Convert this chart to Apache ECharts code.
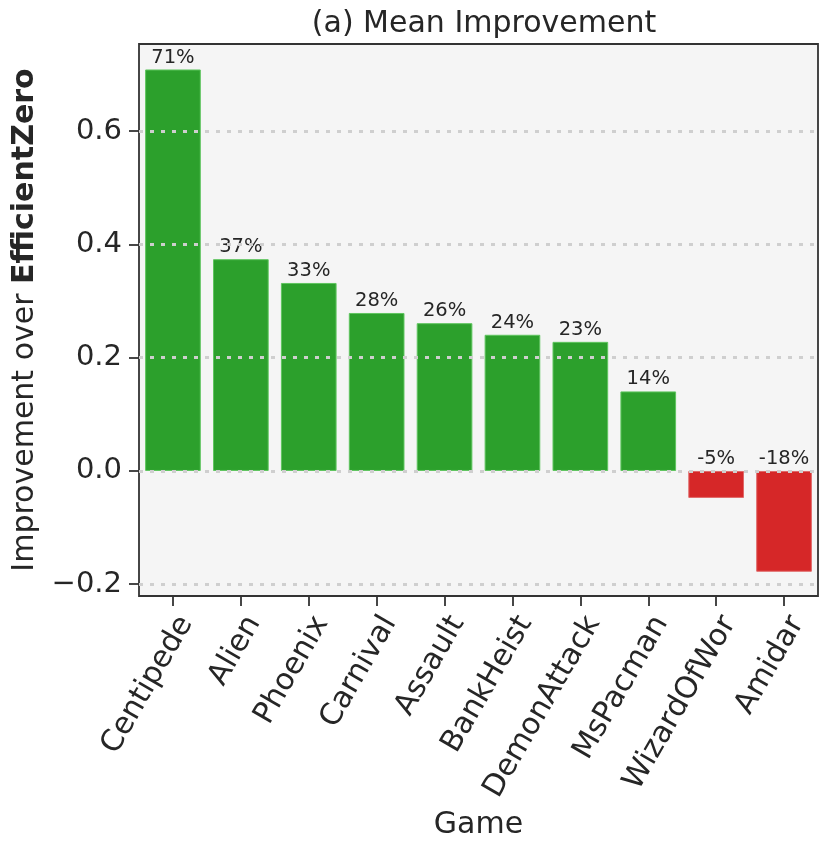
<!DOCTYPE html>
<html><head><meta charset="utf-8">
<script src="https://cdn.jsdelivr.net/npm/echarts@6/dist/echarts.min.js"></script>
<style>html,body{margin:0;padding:0;background:#fff}#c{width:831px;height:855px}</style>
</head><body><div id="c"></div>
<script>
const games = ['Centipede','Alien','Phoenix','Carnival','Assault','BankHeist','DemonAttack','MsPacman','WizardOfWor','Amidar'];
const gameLabels = ['Centipede','Alien','Phoenix','Carnival','Assault','BankHeist','DemonAttack','MsPacman','WizardOfWor','Amidar'];
const improvement = [0.709, 0.374, 0.332, 0.279, 0.261, 0.2405, 0.228, 0.1405, -0.0476, -0.178];
const yTicks = [-0.2, 0.0, 0.2, 0.4, 0.6];
const yMin = -0.2208, yMax = 0.754;

const font = 'DejaVu Sans';
const txt = '#262626';
const chart = echarts.init(document.getElementById('c'), null, {renderer:'canvas'});
chart.setOption({
  animation:false,
  backgroundColor:'#ffffff',
  textStyle:{fontFamily:font,color:txt},
  title:{text:'(a) Mean Improvement',left:479,top:4,textAlign:'center',
    textStyle:{fontFamily:font,fontWeight:'normal',fontSize:30,color:txt}},
  grid:{left:139,top:44,right:13,bottom:259,backgroundColor:'#f5f5f5',show:true,borderColor:'#333333',borderWidth:1.8},
  xAxis:{type:'category',data:gameLabels,
    name:'Game',nameLocation:'middle',nameGap:214,
    nameTextStyle:{fontFamily:font,fontSize:30,color:txt},
    axisLine:{show:false,onZero:false},
    axisTick:{show:true,alignWithLabel:true,length:10,lineStyle:{color:'#333333',width:1.8}},
    axisLabel:{rotate:60,margin:15,verticalAlign:'top',fontFamily:font,fontSize:30,color:txt,interval:0},
    splitLine:{show:false}},
  yAxis:{type:'value',min:yMin,max:yMax,
    name:'{n|Improvement over }{b|EfficientZero}',nameLocation:'middle',nameRotate:90,nameGap:92,
    nameTextStyle:{rich:{n:{fontFamily:font,fontSize:30,color:txt},b:{fontFamily:font,fontSize:30,fontWeight:'bold',color:txt}}},
    axisLine:{show:false},
    axisTick:{show:true,length:10,lineStyle:{color:'#333333',width:1.8},customValues:yTicks},
    axisLabel:{fontFamily:font,fontSize:29,color:txt,margin:17,customValues:yTicks,
      formatter:v=>(v<0?'\u2212':'')+Math.abs(v).toFixed(1)},
    splitLine:{show:false}},
  series:[
    {type:'line',data:[],z:1,silent:true,
     markLine:{silent:true,symbol:'none',label:{show:false},
       lineStyle:{color:'#cfcfcf',width:3,type:[4,7]},
       data:yTicks.map(v=>({yAxis:v}))}},
    {type:'bar',z:2,barCategoryGap:'18%',
     data:improvement.map(v=>({value:v,
        itemStyle:{color:v>=0?'#2ca02c':'#d62728',borderColor:v>=0?'#5fc55f':'#e06868',borderWidth:1},
        label:{position:'top'}})),
     label:{show:true,fontFamily:font,fontSize:19.5,color:txt,distance:2,
       formatter:p=>Math.round(p.value*100)+'%'}}
  ]
});
</script></body></html>
